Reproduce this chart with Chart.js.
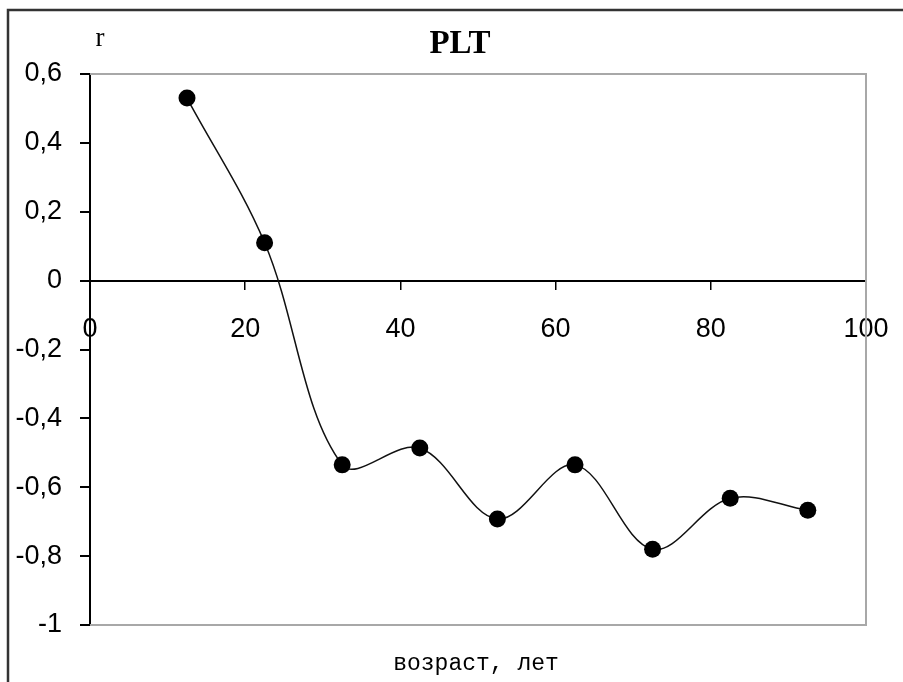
<!DOCTYPE html>
<html><head><meta charset="utf-8">
<script src="https://cdn.jsdelivr.net/npm/chart.js@4.4.1/dist/chart.umd.min.js"></script>
<style>html,body{margin:0;padding:0;background:#fff;overflow:hidden}canvas{display:block}</style>
</head><body>
<canvas id="c" width="903" height="682"></canvas>
<script>
const chartTitle = 'PLT';
const yAxisLabel = 'r';
const xAxisLabel = 'возраст, лет';
const ages = [12.5, 22.5, 32.5, 42.5, 52.5, 62.5, 72.5, 82.5, 92.5];
const rValues = [0.53, 0.11, -0.535, -0.486, -0.692, -0.535, -0.78, -0.632, -0.667];
const xTickValues = [0, 20, 40, 60, 80, 100];
const yTickValues = [-1, -0.8, -0.6, -0.4, -0.2, 0, 0.2, 0.4, 0.6];

const points = ages.map((x, i) => ({x: x, y: rValues[i]}));
const fmt = v => String(Math.round(v * 10) / 10).replace('.', ',');
const tickFont = {family: '"Liberation Sans", Arial, sans-serif', size: 27};

const decor = {
  id: 'decor',
  beforeDraw(chart) {
    const ctx = chart.ctx;
    ctx.save();
    ctx.strokeStyle = '#333';
    ctx.lineWidth = 2.5;
    ctx.beginPath();
    ctx.moveTo(8, 682); ctx.lineTo(8, 10); ctx.lineTo(903, 10);
    ctx.stroke();
    ctx.restore();
  },
  beforeDatasetsDraw(chart) {
    const {ctx, chartArea: a} = chart;
    ctx.save();
    ctx.strokeStyle = '#a8a8a8';
    ctx.lineWidth = 2;
    ctx.beginPath();
    ctx.moveTo(a.left, a.top); ctx.lineTo(a.right, a.top);
    ctx.lineTo(a.right, a.bottom); ctx.lineTo(a.left, a.bottom);
    ctx.stroke();
    ctx.restore();
  },
  afterDraw(chart) {
    const ctx = chart.ctx;
    ctx.save();
    ctx.fillStyle = '#000';
    ctx.textAlign = 'center';
    ctx.textBaseline = 'middle';
    ctx.font = 'bold 33px "Liberation Serif", "Times New Roman", serif';
    ctx.fillText(chartTitle, 460, 44);
    ctx.font = '27px "Liberation Serif", "Times New Roman", serif';
    ctx.textBaseline = 'alphabetic';
    ctx.fillText(yAxisLabel, 100, 46);
    ctx.font = '23px "Liberation Mono", "Courier New", monospace';
    ctx.textBaseline = 'middle';
    ctx.fillText(xAxisLabel, 476, 664);
    ctx.restore();
  }
};

new Chart(document.getElementById('c'), {
  type: 'scatter',
  data: {
    datasets: [{
      data: points,
      showLine: true,
      borderColor: '#111',
      borderWidth: 1.5,
      tension: 0.35,
      pointRadius: 8.5,
      pointHoverRadius: 8.5,
      pointBackgroundColor: '#000',
      pointBorderColor: '#000',
      pointBorderWidth: 0
    }]
  },
  options: {
    responsive: false,
    animation: false,
    devicePixelRatio: 1,
    layout: {padding: {left: 0, right: 37, top: 74, bottom: 57}},
    plugins: {legend: {display: false}, tooltip: {enabled: false}, title: {display: false}},
    scales: {
      x: {
        type: 'linear',
        min: 0, max: 100,
        position: {y: 0},
        afterBuildTicks: s => { s.ticks = xTickValues.map(v => ({value: v})); },
        afterFit: s => { s.height = 0; s.paddingLeft = 0; s.paddingRight = 0; },
        ticks: {color: '#000', font: tickFont, padding: 25, maxRotation: 0, autoSkip: false,
                callback: v => fmt(v)},
        grid: {drawOnChartArea: false, drawTicks: true, tickLength: 8, color: '#000', lineWidth: 1.5},
        border: {display: true, color: '#000', width: 2}
      },
      y: {
        type: 'linear',
        min: -1, max: 0.6,
        position: 'left',
        afterBuildTicks: s => { s.ticks = yTickValues.map(v => ({value: v})); },
        afterFit: s => { s.width = 90; s.paddingTop = 0; s.paddingBottom = 0; },
        ticks: {color: '#000', font: tickFont, padding: 18, autoSkip: false,
                callback: v => fmt(v)},
        grid: {drawOnChartArea: false, drawTicks: true, tickLength: 10, color: '#000', lineWidth: 2},
        border: {display: true, color: '#000', width: 2}
      }
    }
  },
  plugins: [decor]
});
</script>
</body></html>
